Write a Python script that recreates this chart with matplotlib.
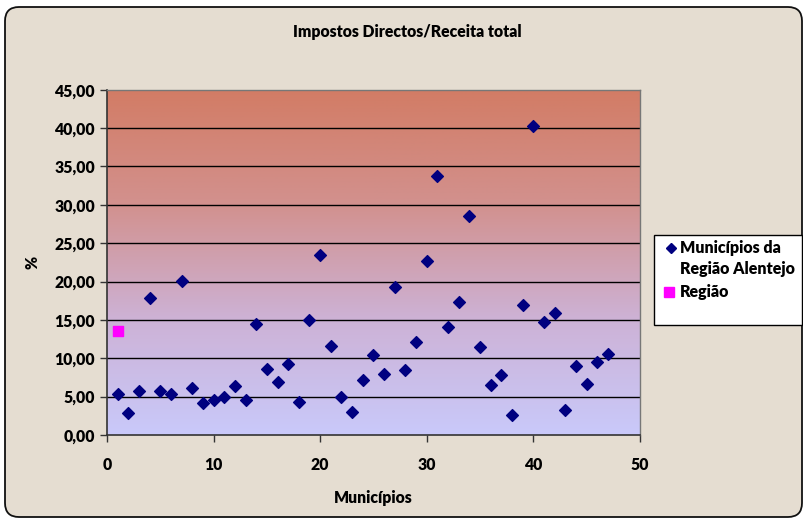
import numpy as np
import matplotlib
matplotlib.use('Agg')
import matplotlib.pyplot as plt
from matplotlib.patches import FancyBboxPatch, Rectangle
from matplotlib.lines import Line2D
from matplotlib.transforms import IdentityTransform
from matplotlib.ticker import FuncFormatter
from matplotlib.colors import LinearSegmentedColormap

plt.rcParams['font.family'] = ['Lato', 'DejaVu Sans']

# dados
municipios = np.arange(1, 48)
impostos = [5.4, 2.9, 5.7, 17.8, 5.7, 5.4, 20.1, 6.1, 4.1, 4.6,
            5.0, 6.4, 4.6, 14.4, 8.6, 6.9, 9.2, 4.3, 15.0, 23.4,
            11.6, 5.0, 3.0, 7.1, 10.4, 8.0, 19.3, 8.4, 12.1, 22.7,
            33.8, 14.1, 17.3, 28.6, 11.4, 6.5, 7.8, 2.6, 17.0, 40.3,
            14.7, 15.9, 3.2, 9.0, 6.6, 9.5, 10.5]
regiao_x = [1]
regiao_y = [13.6]
serie_nomes = ['Municípios da\nRegião Alentejo', 'Região']

W, H = 804, 519
fig = plt.figure(figsize=(W / 100, H / 100), dpi=100)
fig.patch.set_facecolor('white')

def fy(py):
    # pixel (a contar de cima) -> fracção da figura
    return 1 - py / H

# fundo da figura com cantos arredondados (em pixeis)
bg = FancyBboxPatch((5, 2), 797, 510, boxstyle="round,pad=0,rounding_size=14",
                    transform=IdentityTransform(), facecolor='#e5ddd1', edgecolor='#111111',
                    linewidth=1.3, zorder=-10)
fig.patches.append(bg)

ax = fig.add_axes([0.133, 0.162, 0.663, 0.665])

# gradiente da área do gráfico
cmap = LinearSegmentedColormap.from_list('grad', ['#c9c9fa', '#cdb2d6', '#d2918e', '#d27c65'])
grad = np.linspace(0, 1, 256).reshape(-1, 1)
ax.imshow(grad, extent=[0, 50, 0, 45], origin='lower', aspect='auto', cmap=cmap, zorder=0)

for yv in range(5, 45, 5):
    ax.axhline(yv, color='black', linewidth=1.0, zorder=1)

ax.scatter(municipios, impostos, marker='D', s=36, color='#000080', zorder=3)
ax.scatter(regiao_x, regiao_y, marker='s', s=50, color='#ff00ff', zorder=3)

ax.set_xlim(0, 50)
ax.set_ylim(0, 45)
ax.set_xticks(range(0, 51, 10))
ax.set_yticks(range(0, 46, 5))
ax.yaxis.set_major_formatter(FuncFormatter(lambda v, p: '{:.2f}'.format(v).replace('.', ',')))
ax.tick_params(direction='out', length=5, width=1, colors='#333333', labelcolor='black',
               labelsize=11.3)
for lab in ax.get_xticklabels() + ax.get_yticklabels():
    lab.set_fontweight('heavy')
ax.tick_params(axis='x', pad=11)

for s in ['left', 'bottom']:
    ax.spines[s].set_color('#333333')
    ax.spines[s].set_linewidth(1.2)
for s in ['top', 'right']:
    ax.spines[s].set_color('#777777')
    ax.spines[s].set_linewidth(1.0)

fig.text(0.506, fy(32), 'Impostos Directos/Receita total', fontsize=11.3, fontweight='heavy',
         ha='center', va='center')
ax.set_xlabel('Municípios', fontsize=11.3, fontweight='heavy', labelpad=12)
ax.set_ylabel('%', fontsize=11.3, fontweight='heavy', labelpad=10)

# legenda desenhada à mão (marcador alinhado com a primeira linha, como no Excel)
fig.patches.append(Rectangle((654 / W, fy(325)), 148 / W, 90 / H, transform=fig.transFigure,
                             facecolor='white', edgecolor='black', linewidth=1.0, zorder=5))
fig.add_artist(Line2D([671 / W], [fy(248)], marker='D', markersize=5.5, color='#000080',
                      linestyle='none', transform=fig.transFigure, zorder=6))
fig.add_artist(Line2D([669 / W], [fy(292)], marker='s', markersize=6.5, color='#ff00ff',
                      linestyle='none', transform=fig.transFigure, zorder=6))
linhas = serie_nomes[0].split('\n')
for i, txt in enumerate(linhas):
    fig.text(680 / W, fy(248 + 21 * i), txt, fontsize=11.5, fontweight='heavy', ha='left',
             va='center', zorder=6)
fig.text(680 / W, fy(292), serie_nomes[1], fontsize=11.5, fontweight='heavy', ha='left',
         va='center', zorder=6)

fig.savefig('out.png', dpi=100, facecolor=fig.get_facecolor())
